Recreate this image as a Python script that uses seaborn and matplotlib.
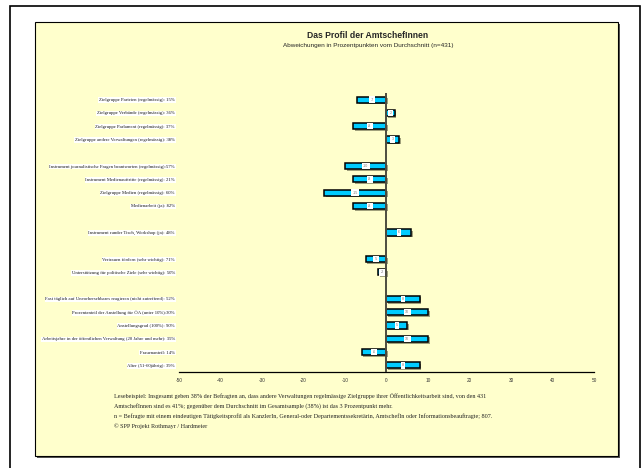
import matplotlib
matplotlib.use("Agg")
import matplotlib.pyplot as plt
import matplotlib.patheffects as pe
from matplotlib.patches import Rectangle
import seaborn as sns
import pandas as pd

# rows top to bottom; "" marks an empty slot between groups
row_labels = [
    "Zielgruppe Parteien (regelmässig): 15%",
    "Zielgruppe Verbände (regelmässig): 36%",
    "Zielgruppe Parlament (regelmässig): 37%",
    "Zielgruppe andere Verwaltungen (regelmässig): 38%",
    "",
    "Instrument journalistische Fragen beantworten (regelmässig):57%",
    "Instrument Medienauftritte (regelmässig): 21%",
    "Zielgruppe Medien (regelmässig): 60%",
    "Medienarbeit (ja): 82%",
    "",
    "Instrument runder Tisch, Workshop (ja): 48%",
    "",
    "Vertrauen fördern (sehr wichtig): 71%",
    "Unterstützung für politische Ziele (sehr wichtig): 50%",
    "",
    "Fast täglich auf Unvorhersehbares reagieren (nicht zutreffend): 52%",
    "Prozentanteil der Anstellung für ÖA (unter 10%):30%",
    "Anstellungsgrad (100%): 90%",
    "Arbeitsjahre in der öffentlichen Verwaltung (20 Jahre und mehr): 35%",
    "Frauenanteil: 14%",
    "Alter (51-60jährig): 39%",
]
# deviation in percentage points, None for the empty slots
row_values = [-7, 2, -8, 3, None, -10, -8, -15, -8, None, 6, None,
              -5, -2, None, 8, 10, 5, 10, -6, 8]
x_ticks = [-50, -40, -30, -20, -10, 0, 10, 20, 30, 40, 50]

title = "Das Profil der AmtschefInnen"
subtitle = "Abweichungen in Prozentpunkten vom Durchschnitt (n=431)"
footnote = [
    "Lesebeispiel: Insgesamt geben 38% der Befragten an, dass andere Verwaltungen regelmässige Zielgruppe ihrer Öffentlichkeitsarbeit sind, von den 431",
    "AmtschefInnen sind es 41%; gegenüber dem Durchschnitt im Gesamtsample (38%) ist das 3 Prozentpunkt mehr.",
    "n = Befragte mit einem eindeutigen Tätigkeitsprofil als KanzlerIn, General-oder Departementssekretärin, AmtschefIn oder Informationsbeauftragte; 807.",
    "© SPP Projekt Rothmayr / Hardmeier",
]

# categorical keys, gaps get their own placeholder key
keys = [lab if lab else f"gap{i}" for i, lab in enumerate(row_labels)]
df = pd.DataFrame({"key": keys, "value": row_values}).dropna()

sns.set_style("white")
plt.rcParams["font.family"] = ["Liberation Sans", "DejaVu Sans"]

fig = plt.figure(figsize=(6.43, 4.68), dpi=100)
fig.patch.set_facecolor("white")

# outer frame and yellow panel with shadow (behind the axes)
fig.patches.append(Rectangle((10 / 643, -0.05), 630 / 643, 1 - 6 / 468 + 0.05,
                             transform=fig.transFigure, fill=False,
                             edgecolor="black", lw=1.2, zorder=-3))
fig.patches.append(Rectangle((37 / 643, 1 - 458 / 468), 583 / 643, 434 / 468,
                             transform=fig.transFigure, facecolor="#555555",
                             edgecolor="none", zorder=-2))
fig.patches.append(Rectangle((35 / 643, 1 - 456 / 468), 583 / 643, 434 / 468,
                             transform=fig.transFigure, facecolor="#FFFFCC",
                             edgecolor="black", lw=0.8, zorder=-1))

ax = fig.add_axes([179 / 643, 1 - 372 / 468, 415 / 643, 279 / 468])
ax.set_facecolor("none")

sns.barplot(data=df, x="value", y="key", order=keys, orient="h",
            color="#00CCFF", edgecolor="black", linewidth=1.1, width=0.47,
            saturation=1, ax=ax)

for bar in ax.patches:
    bar.set_path_effects([pe.SimplePatchShadow(offset=(1.2, -1.2), shadow_rgbFace="#7a7a5a", alpha=0.7),
                          pe.Normal()])

# value labels in the middle of each bar
for _, row in df.iterrows():
    ax.text(row["value"] / 2, keys.index(row["key"]), f"{int(row['value'])}",
            ha="center", va="center", fontsize=2.6, color="#777777",
            bbox=dict(boxstyle="square,pad=0.35", facecolor="white", edgecolor="none"))

ax.axvline(0, color="#4d4d40", lw=1.4, zorder=3)
ax.set_xlim(-50, 50)
ax.set_ylim(len(keys) - 0.5, -0.5)

real_pos = [i for i, lab in enumerate(row_labels) if lab]
ax.set_yticks(real_pos)
ax.set_yticklabels([row_labels[i] for i in real_pos], family="Liberation Serif",
                   fontsize=3.4, color="#1a1a1a")
for lab in ax.get_yticklabels():
    lab.set_bbox(dict(boxstyle="square,pad=0.15", facecolor="white", edgecolor="none"))
ax.tick_params(axis="y", length=0, pad=3)

ax.set_xticks(x_ticks)
ax.set_xticklabels([str(t) for t in x_ticks], fontsize=3.4, color="#333333")
ax.tick_params(axis="x", direction="out", length=3, width=0.8, color="black", pad=1.5)

ax.set_xlabel("")
ax.set_ylabel("")
for side in ["top", "right", "left"]:
    ax.spines[side].set_visible(False)
ax.spines["bottom"].set_color("black")
ax.spines["bottom"].set_linewidth(0.9)

fig.text(368 / 643, 1 - 36 / 468, title, ha="center", va="center",
         fontsize=6.2, fontweight="bold")
fig.text(368 / 643, 1 - 46 / 468, subtitle, ha="center", va="center", fontsize=4.6)

for i, line in enumerate(footnote):
    fig.text(114 / 643, 1 - (396 + i * 10) / 468, line, ha="left", va="center",
             fontsize=4.4, family="Liberation Serif", color="#222222")

fig.savefig("out.png", dpi=100, facecolor=fig.get_facecolor())
plt.close(fig)
